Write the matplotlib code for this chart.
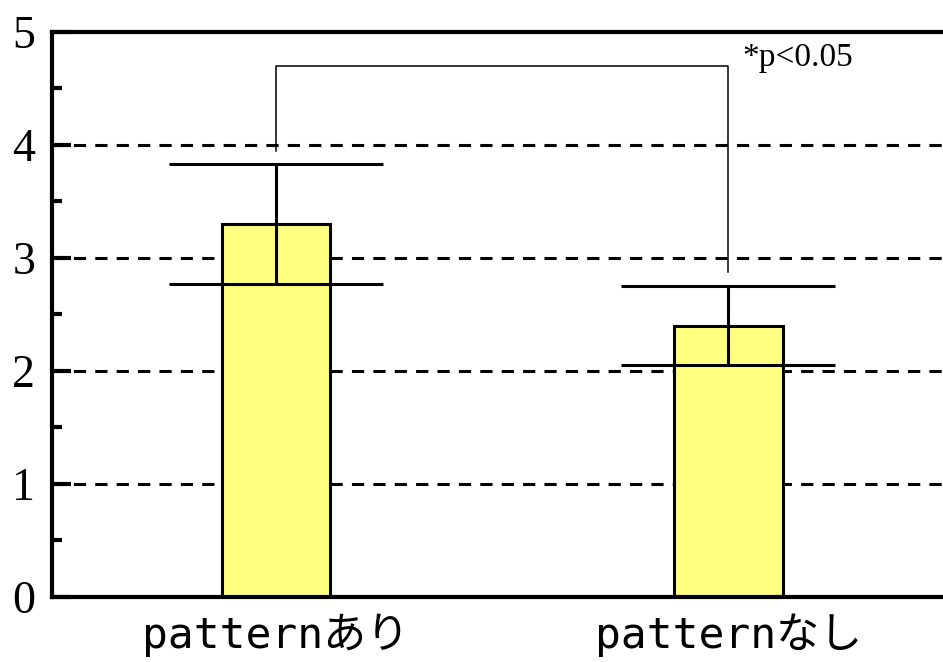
import matplotlib
matplotlib.use("Agg")
import matplotlib.pyplot as plt
from matplotlib.ticker import MultipleLocator

categories = ["patternあり", "patternなし"]
means = [3.30, 2.40]
errors = [0.53, 0.35]
y_ticks = [0, 1, 2, 3, 4, 5]
bracket_top = 4.70
bracket_ends = [3.95, 2.88]
sig_label = "*p<0.05"

fig = plt.figure(figsize=(9.43, 6.62), dpi=100)
ax = fig.add_axes([0.0551, 0.0982, 0.9449, 0.8535])

x = list(range(len(categories)))

# dashed reference lines behind the bars
for yv in y_ticks[1:-1]:
    ax.axhline(yv, color="black", lw=2.2, linestyle=(0, (4, 3)), zorder=1)

ax.bar(x, means, width=0.239, color="#FFFF80", edgecolor="black",
       linewidth=2.2, zorder=2)
ax.errorbar(x, means, yerr=errors, fmt="none", ecolor="black",
            elinewidth=2.2, capsize=77, capthick=2.2, zorder=3)

# significance bracket
ax.plot([x[0], x[0], x[1], x[1]],
        [bracket_ends[0], bracket_top, bracket_top, bracket_ends[1]],
        color="black", lw=1.1, zorder=3)
ax.text(x[1] + 0.03, bracket_top, sig_label, family="Liberation Serif",
        fontsize=24, ha="left", va="baseline")

ax.set_xlim(-0.495, 1.474)
ax.set_ylim(0, 5)
ax.set_yticks(y_ticks)
ax.yaxis.set_minor_locator(MultipleLocator(0.5))
ax.set_xticks(x)
ax.set_xticklabels(categories,
                   family=["DejaVu Sans Mono", "Noto Sans CJK JP"],
                   fontsize=31)
for lab in ax.get_yticklabels():
    lab.set_family("Liberation Serif")
    lab.set_fontsize(33)

ax.tick_params(axis="y", which="major", direction="in", length=14, width=3,
               pad=12)
ax.tick_params(axis="y", which="minor", direction="in", length=7, width=3)
ax.tick_params(axis="x", length=0, pad=12)

ax.spines["right"].set_visible(False)
for s in ["left", "bottom", "top"]:
    ax.spines[s].set_linewidth(3)

fig.savefig("out.png", dpi=100)
